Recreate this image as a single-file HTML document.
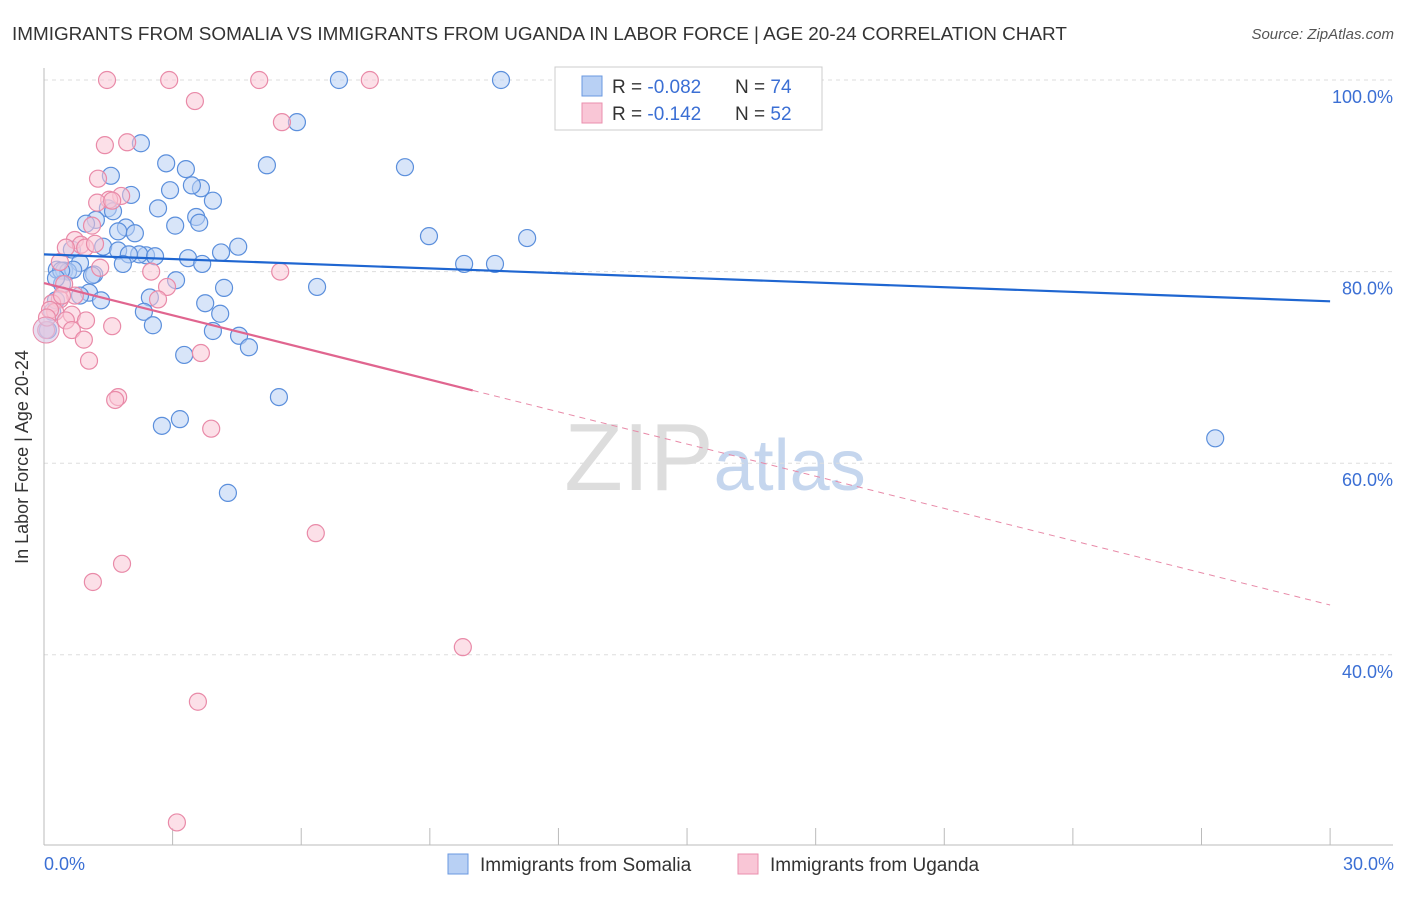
<!DOCTYPE html>
<html><head><meta charset="utf-8"><style>
body{margin:0;background:#fff;font-family:"Liberation Sans",sans-serif}
svg text{font-family:"Liberation Sans",sans-serif}
</style></head><body>
<svg width="1406" height="892" id="chart">
<text x="12" y="40" font-size="18.9" fill="#333">IMMIGRANTS FROM SOMALIA VS IMMIGRANTS FROM UGANDA IN LABOR FORCE | AGE 20-24 CORRELATION CHART</text>
<text x="1394" y="39" font-size="15" fill="#555" text-anchor="end" font-style="italic">Source: ZipAtlas.com</text>
<text x="715" y="490" font-size="96" fill="#ddd" text-anchor="middle" font-family="Liberation Serif">ZIP<tspan fill="#c5d6ee" font-family="Liberation Sans" font-size="72">atlas</tspan></text>
<g id="grid"></g><g id="axes"></g><g id="points"></g><g id="trends"></g>
<text x="28" y="457" font-size="18" fill="#333" text-anchor="middle" transform="rotate(-90 28 457)">In Labor Force | Age 20-24</text>
<text x="44" y="870" font-size="18" fill="#3b6fd4">0.0%</text>
<text x="1394" y="870" font-size="18" fill="#3b6fd4" text-anchor="end">30.0%</text>
<g>
<rect x="555" y="67" width="267" height="63" fill="#fff" stroke="#ccc"/>
<rect x="582" y="76" width="20" height="20" fill="#b8d0f4" stroke="#6a98e0"/>
<rect x="582" y="103" width="20" height="20" fill="#f9c6d6" stroke="#ea8fad"/>
<text x="612" y="93" font-size="19" fill="#333">R = <tspan fill="#3b6fd4">-0.082</tspan><tspan x="735">N = </tspan><tspan fill="#3b6fd4">74</tspan></text>
<text x="612" y="120" font-size="19" fill="#333">R = <tspan fill="#3b6fd4"> -0.142</tspan><tspan x="735">N = </tspan><tspan fill="#3b6fd4">52</tspan></text>
</g>
<g>
<rect x="448" y="854" width="20" height="20" fill="#b8d0f4" stroke="#6a98e0"/>
<text x="480" y="871" font-size="19" fill="#333">Immigrants from Somalia</text>
<rect x="738" y="854" width="20" height="20" fill="#f9c6d6" stroke="#ea8fad"/>
<text x="770" y="871" font-size="19" fill="#333">Immigrants from Uganda</text>
</g>
</svg>
<script>
const somaliaX=[6.88,10.66,5.90,2.26,5.20,8.42,2.85,3.31,1.56,2.94,3.66,3.45,2.03,3.94,2.66,1.49,1.61,1.21,0.98,3.55,3.62,3.06,1.91,1.73,2.12,4.53,1.38,4.13,0.65,1.73,2.38,2.22,1.98,2.59,3.36,3.69,1.84,0.84,8.98,11.27,9.80,10.52,0.30,0.47,0.56,0.68,0.40,1.17,3.08,1.12,6.37,4.20,0.42,1.05,2.47,1.33,3.76,2.33,4.11,2.54,4.55,3.94,4.78,3.27,5.48,3.17,2.75,4.29,27.32,0.28,0.19,0.09,0.28,0.84];
const somaliaY=[100,100,95.6,93.4,91.1,90.9,91.3,90.7,90.0,88.5,88.7,89.0,88.0,87.4,86.6,86.6,86.3,85.4,85.0,85.7,85.1,84.8,84.6,84.2,84.0,82.6,82.6,82.0,82.3,82.2,81.7,81.8,81.8,81.6,81.4,80.8,80.8,80.9,83.7,83.5,80.8,80.8,80.2,80.1,80.0,80.2,80.1,79.7,79.1,79.6,78.4,78.3,78.7,77.8,77.3,77.0,76.7,75.8,75.6,74.4,73.3,73.8,72.1,71.3,66.9,64.6,63.9,56.9,62.6,79.3,75.8,73.9,77.0,77.5];
const ugandaX=[1.47,2.92,5.02,7.60,3.52,5.55,1.94,1.42,1.26,1.80,1.52,1.24,1.59,1.12,0.72,0.86,0.96,1.31,2.50,5.51,0.47,2.87,0.72,2.66,0.37,0.19,0.26,0.14,0.65,0.98,0.51,1.59,0.65,0.93,3.66,1.05,1.73,1.66,3.90,6.34,1.82,1.14,9.77,3.59,3.10,0.05,0.07,0.42,0.37,0.51,1.19];
const ugandaY=[100,100,100,100,97.8,95.6,93.5,93.2,89.7,87.9,87.5,87.2,87.4,84.8,83.3,82.8,82.5,80.4,80.0,80.0,78.7,78.4,77.5,77.1,77.1,76.7,75.8,76.0,75.5,74.9,74.9,74.3,73.9,72.9,71.5,70.7,66.9,66.6,63.6,52.7,49.5,47.6,40.8,35.1,22.5,73.9,75.2,77.5,81.0,82.5,82.9];
const somaliaTrend=[81.8,76.9];
const ugandaTrend=[78.8,45.2];
const yTicks=[100,80,60,40];
const yTickLabels=["100.0%","80.0%","60.0%","40.0%"];
const xTicks=[0,3,6,9,12,15,18,21,24,27,30];

const NS="http://www.w3.org/2000/svg";
const X=v=>44+v*42.87, Y=v=>80+(100-v)*9.58;
function mk(tag,attrs,parent){const e=document.createElementNS(NS,tag);for(const k in attrs)e.setAttribute(k,attrs[k]);document.getElementById(parent).appendChild(e);return e;}
yTicks.forEach((t,i)=>{
 const l=mk('line',{x1:44,x2:1393,y1:Y(t),y2:Y(t),stroke:'#ddd','stroke-dasharray':'4 4'},'grid');
 
 
 const tx=mk('text',{x:1393,y:Y(t)+23,'font-size':18,fill:'#3b6fd4','text-anchor':'end'},'grid');
 tx.textContent=yTickLabels[i];
 
 
});
const ya=mk('line',{x1:44,x2:44,y1:68,y2:845,stroke:'#bbb'},'axes');


const xa=mk('line',{x1:44,x2:1393,y1:845,y2:845,stroke:'#bbb'},'axes');


xTicks.forEach(t=>{
 const l=mk('line',{x1:X(t),x2:X(t),y1:828,y2:845,stroke:'#bbb'},'axes');
 
 
});
function dots(xs,ys,fill,stroke,name){
 xs.forEach((x,i)=>{
  const c=mk('circle',{cx:X(x),cy:Y(ys[i]),r:8.5,fill:fill,'fill-opacity':0.55,stroke:stroke,'stroke-width':1.2},'points');
  
  
 });
}
dots(somaliaX,somaliaY,'#b8d0f4','#5b8fdc','somalia-point');
dots(ugandaX,ugandaY,'#f9c6d6','#e98aa8','uganda-point');
const big=mk('circle',{cx:X(0.05),cy:Y(73.9),r:13,fill:'#d8c6e4','fill-opacity':0.6,stroke:'#e98aa8'},'points');


const bt=mk('line',{x1:X(0),y1:Y(somaliaTrend[0]),x2:X(30),y2:Y(somaliaTrend[1]),stroke:'#1f66d1','stroke-width':2.2},'trends');


const py=x=>ugandaTrend[0]+(ugandaTrend[1]-ugandaTrend[0])*x/30;
const ps=mk('line',{x1:X(0),y1:Y(py(0)),x2:X(10),y2:Y(py(10)),stroke:'#e0658f','stroke-width':2.2},'trends');


const pd=mk('line',{x1:X(10),y1:Y(py(10)),x2:X(30),y2:Y(py(30)),stroke:'#e88aa8','stroke-width':1,'stroke-dasharray':'6 5'},'trends');


</script>
</body></html>
